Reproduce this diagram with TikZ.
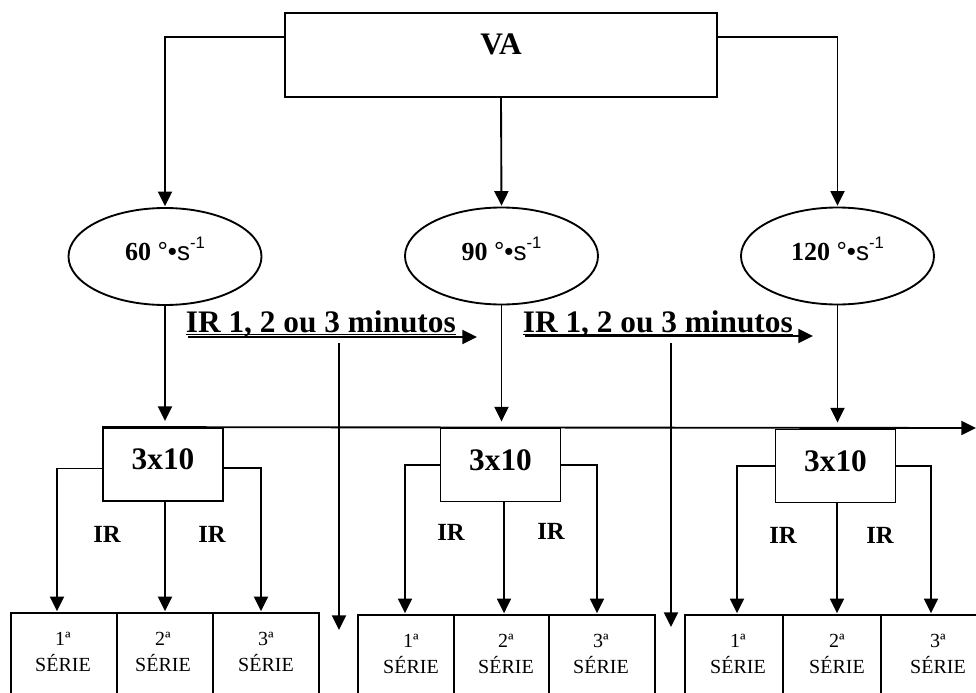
\documentclass[tikz,border=0pt]{standalone}
\usepackage{fontspec}
\setmainfont{Liberation Serif}
\setsansfont{Liberation Sans}
\usetikzlibrary{arrows.meta,shapes.geometric}
\begin{document}
\begin{tikzpicture}[x=0.75pt,y=-0.75pt,
  line width=1.4pt,
  arr/.style={-{Triangle[length=11pt,width=10.5pt]}, shorten >=0.6pt},
  vabox/.style={draw, rectangle, inner sep=0pt, minimum width=324pt, minimum height=63pt,
    font=\fontsize{23.5}{28}\selectfont\bfseries, text height=16pt, text depth=16.9pt},
  speed/.style={draw, ellipse, inner sep=0pt, minimum width=144.75pt, minimum height=72.75pt,
    font=\fontsize{19.5}{23}\selectfont, text height=18pt, text depth=12pt},
  setbox/.style={draw, rectangle, inner sep=0pt, minimum width=90pt, minimum height=54.75pt,
    font=\fontsize{23.5}{28}\selectfont\bfseries, text height=16pt, text depth=7.9pt},
  serbox/.style={draw, rectangle, inner sep=0pt, minimum height=65.25pt},
  sertext/.style={anchor=north, inner sep=0pt, align=center, font=\fontsize{15}{19.5}\selectfont},
  irlabel/.style={inner sep=0pt, font=\fontsize{18.5}{22}\selectfont\bfseries},
  restlabel/.style={anchor=base west, inner sep=0pt, font=\fontsize{23.5}{28}\selectfont\bfseries},
]
\newcommand{\spd}[1]{{\bfseries #1} {\sffamily °•s\raisebox{9pt}{\fontsize{12.5}{12.5}\selectfont -1}}}
\useasboundingbox (0,0) rectangle (976,693);
\clip (0,0) rectangle (976,693);

% top box
\node[vabox] (va) at (501,55) {VA};

% speeds
\node[speed] (e1) at (165,256.5) {\spd{60}};
\node[speed] (e2) at (501.5,256) {\spd{90}};
\node[speed] (e3) at (837.5,256) {\spd{120}};

% 3x10 boxes
\node[setbox] (b1) at (163,464.5) {3x10};
\node[setbox] (b2) at (500.5,465) {3x10};
\node[setbox] (b3) at (835.5,466) {3x10};

% series boxes
\node[serbox, minimum width=79.5pt] (s11) at (64,656.5) {};
\node[serbox, minimum width=72pt]   (s12) at (165,656.5) {};
\node[serbox, minimum width=79.5pt] (s13) at (266,656.5) {};
\node[serbox, minimum width=72pt]   (s21) at (406,658.5) {};
\node[serbox, minimum width=71.25pt] (s22) at (501.5,658.5) {};
\node[serbox, minimum width=79.5pt] (s23) at (602,658.5) {};
\node[serbox, minimum width=73.5pt] (s31) at (734,658.5) {};
\node[serbox, minimum width=73.5pt] (s32) at (832,658.5) {};
\node[serbox, minimum width=73.5pt] (s33) at (930,658.5) {};

% series texts
\node[sertext] (t11) at (63,631) {1ª\\SÉRIE};
\node[sertext] (t12) at (163,631) {2ª\\SÉRIE};
\node[sertext] (t13) at (266,631) {3ª\\SÉRIE};
\node[sertext] (t21) at (411,633) {1ª\\SÉRIE};
\node[sertext] (t22) at (506,633) {2ª\\SÉRIE};
\node[sertext] (t23) at (601,633) {3ª\\SÉRIE};
\node[sertext] (t31) at (738,633) {1ª\\SÉRIE};
\node[sertext] (t32) at (837,633) {2ª\\SÉRIE};
\node[sertext] (t33) at (938,633) {3ª\\SÉRIE};

% IR labels
\node[irlabel] (ir11) at (107,534) {IR};
\node[irlabel] (ir12) at (212,534) {IR};
\node[irlabel] (ir21) at (451,532) {IR};
\node[irlabel] (ir22) at (551,531) {IR};
\node[irlabel] (ir31) at (783,535) {IR};
\node[irlabel] (ir32) at (880,535) {IR};

% rest labels
\node[restlabel] (rt1) at (185,332) {\underline{\smash{IR 1, 2 ou 3 minutos}}};
\node[restlabel] (rt2) at (522,332) {\underline{\smash{IR 1, 2 ou 3 minutos}}};

% connectors from VA
\draw[arr] ([yshift=13.5pt]va.west) -| (e1.north);
\draw[arr] ([yshift=13.5pt]va.east) -| (e3.north);
\draw[arr] (va.south) -- (e2.north);

% speeds to 3x10
\draw[arr, shorten >=4.5pt] (e1.south) -- (e1.south |- b1.north);
\draw[arr, shorten >=4.5pt] (e2.south) -- (e2.south |- b2.north);
\draw[arr, shorten >=4.5pt] (e3.south) -- (e3.south |- b3.north);

% long horizontal arrow
\coordinate (hend) at (976,428);
\draw[arr, shorten >=0pt] (b1.north west) -- (hend);

% rest arrows
\coordinate (ra1s) at (188,337);
\coordinate (ra1e) at (477,337);
\coordinate (ra2s) at (525,336);
\coordinate (ra2e) at (813,336);
\draw[arr, shorten >=0pt] (ra1s) -- (ra1e);
\draw[arr, shorten >=0pt] (ra2s) -- (ra2e);
\coordinate (v1t) at (339,343);
\coordinate (v1b) at (339,630);
\coordinate (v2t) at (671,343);
\coordinate (v2b) at (671,627);
\draw[arr, shorten >=0pt] (v1t) -- (v1b);
\draw[arr, shorten >=0pt] (v2t) -- (v2b);

% branch targets
\coordinate (p11) at ([xshift=-5.25pt]s11.north);
\coordinate (p12) at (s12.north);
\coordinate (p13) at ([xshift=-3.75pt]s13.north);
\coordinate (p21) at ([xshift=-0.75pt]s21.north);
\coordinate (p22) at ([xshift=1.9pt]s22.north);
\coordinate (p23) at ([xshift=-3.75pt]s23.north);
\coordinate (p31) at ([xshift=2.25pt]s31.north);
\coordinate (p32) at ([xshift=3.75pt]s32.north);
\coordinate (p33) at ([xshift=0.75pt]s33.north);

% branches group 1
\draw[arr] ([yshift=-3pt]b1.west) -| (p11);
\draw[arr] (p12 |- b1.south) -- (p12);
\draw[arr] ([yshift=-2.5pt]b1.east) -| (p13);
% group 2
\draw[arr] (b2.west) -| (p21);
\draw[arr] (p22 |- b2.south) -- (p22);
\draw[arr] (b2.east) -| (p23);
% group 3
\draw[arr] (b3.west) -| (p31);
\draw[arr] (p32 |- b3.south) -- (p32);
\draw[arr] (b3.east) -| (p33);
\end{tikzpicture}
\end{document}
